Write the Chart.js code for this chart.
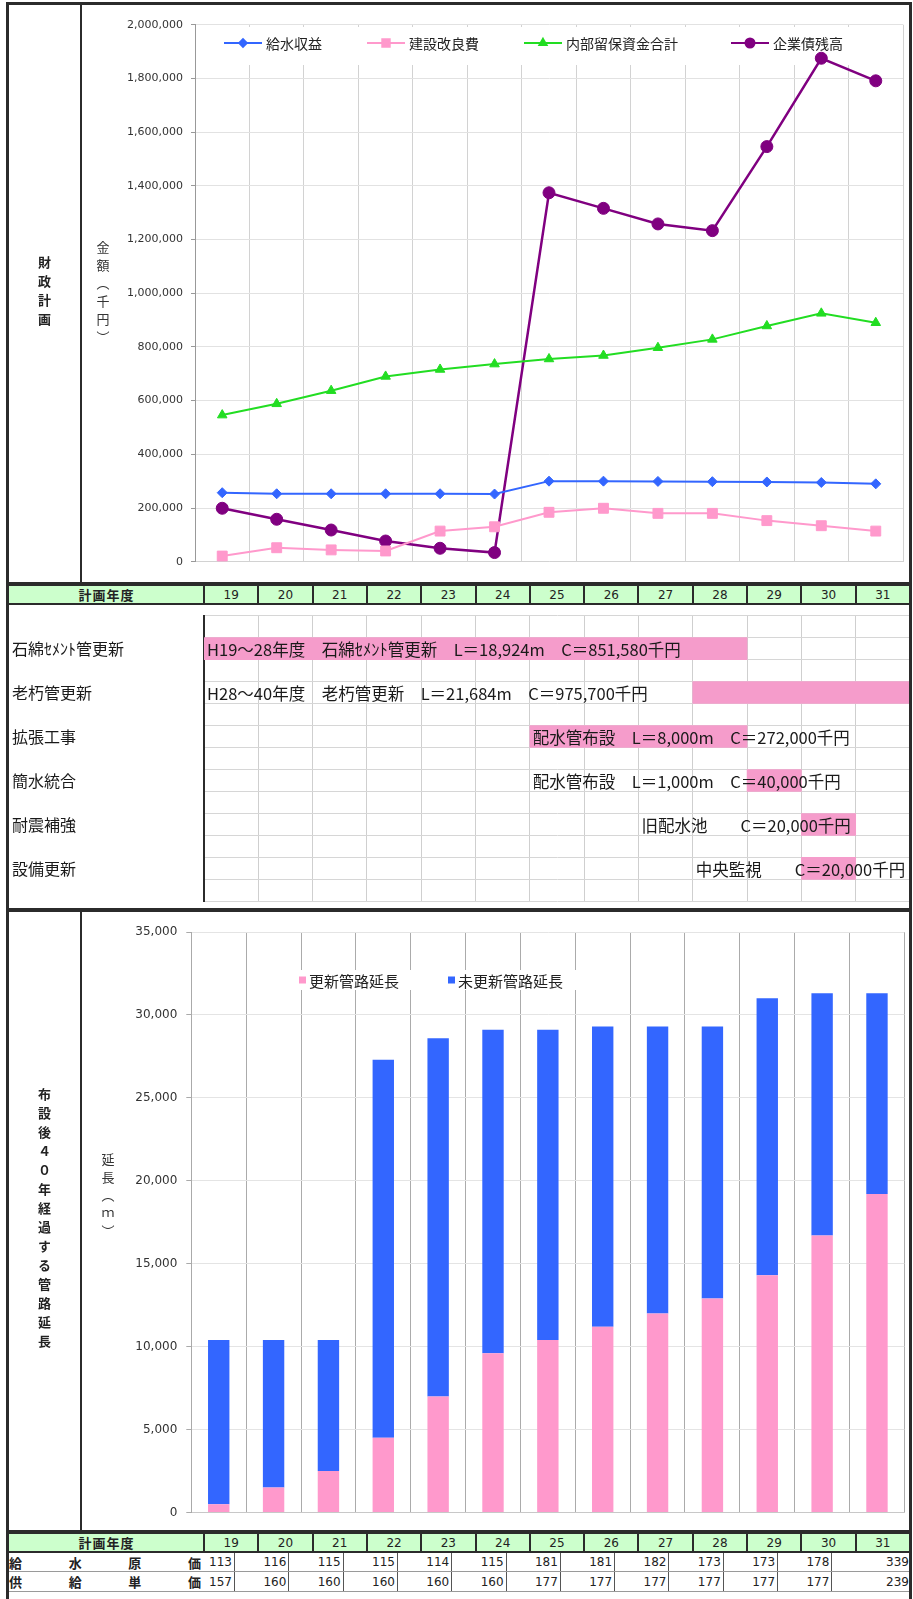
<!DOCTYPE html>
<html lang="ja">
<head>
<meta charset="utf-8">
<title>財政計画・管路延長</title>
<script src="https://cdn.jsdelivr.net/npm/chart.js@4.4.1/dist/chart.umd.min.js"></script>
<style>
  html, body { margin:0; padding:0; background:#fff; }
  #page { position:relative; width:913px; height:1599px; overflow:hidden; background:#fff;
          font-family:"Noto Sans CJK JP","Noto Sans",sans-serif; color:#222; }
  #page canvas { position:absolute; left:0; }
  .rule { position:absolute; background:#2b2b2b; z-index:6; }
  .band { position:absolute; background:#ccffcc; z-index:3; }
  .cell { position:absolute; display:flex; align-items:center; justify-content:center;
          font-size:13px; line-height:1; z-index:4; white-space:nowrap; }
  .num  { position:absolute; font-family:"DejaVu Sans",sans-serif; font-size:12px; line-height:1;
          text-align:right; z-index:4; white-space:nowrap; }
  .vbox { position:absolute; display:flex; align-items:center; justify-content:center; z-index:4; }
  .vbox span { writing-mode:vertical-rl; line-height:1; white-space:nowrap; }
</style>
</head>
<body>
<div id="page">
  <canvas id="finance" width="913" height="583" style="top:0"></canvas>
  <canvas id="schedule" width="913" height="305" style="top:606px"></canvas>
  <canvas id="pipes" width="913" height="618" style="top:912px"></canvas>
</div>
<script>
// ---- 計画年度 ----
const years = ['19','20','21','22','23','24','25','26','27','28','29','30','31'];

// ---- 財政計画（千円） ----
const waterRevenue     = [257000, 253000, 253000, 253000, 253000, 252000, 300000, 300000, 299000, 298000, 297000, 295000, 290000];
const constructionCost = [21000, 52000, 44000, 40000, 114000, 130000, 184000, 199000, 180000, 180000, 153000, 134000, 114000];
const reserveFunds     = [546000, 588000, 637000, 690000, 716000, 736000, 755000, 768000, 797000, 828000, 878000, 925000, 890000];
const bondBalance      = [199000, 158000, 118000, 77000, 50000, 34000, 1374000, 1316000, 1258000, 1233000, 1546000, 1875000, 1791000];

// ---- 事業計画 ----
const taskNames = ['石綿ｾﾒﾝﾄ管更新', '老朽管更新', '拡張工事', '簡水統合', '耐震補強', '設備更新'];
const taskStart = [19, 28, 25, 29, 30, 30];
const taskEnd   = [29, 32, 29, 30, 31, 31];
const taskNotes = [
  'H19～28年度　石綿ｾﾒﾝﾄ管更新　L＝18,924m　C＝851,580千円',
  'H28～40年度　老朽管更新　L＝21,684m　C＝975,700千円',
  '配水管布設　L＝8,000m　C＝272,000千円',
  '配水管布設　L＝1,000m　C＝40,000千円',
  '旧配水池　　C＝20,000千円',
  '中央監視　　C＝20,000千円'
];
const noteStart = [19, 19, 25, 25, 27, 28];

// ---- 布設後40年経過する管路延長（m） ----
const renewedLength   = [500, 1500, 2500, 4500, 7000, 9600, 10400, 11200, 12000, 12900, 14300, 16700, 19200];
const unrenewedLength = [9900, 8900, 7900, 22800, 21600, 19500, 18700, 18100, 17300, 16400, 16700, 14600, 12100];

// ---- 単価表（円） ----
const waterCost   = [113, 116, 115, 115, 114, 115, 181, 181, 182, 173, 173, 178, 339];
const supplyPrice = [157, 160, 160, 160, 160, 160, 177, 177, 177, 177, 177, 177, 239];

const FONT_JP  = '"Noto Sans CJK JP", "Noto Sans", sans-serif';
const FONT_NUM = '"DejaVu Sans", sans-serif';
const page = document.getElementById('page');

function add(cls, css, text) {
  const d = document.createElement('div');
  d.className = cls;
  Object.assign(d.style, css);
  if (text !== undefined) d.innerHTML = text;
  page.appendChild(d);
  return d;
}
function rule(x, y, w, h, color) {
  return add('rule', {left: x + 'px', top: y + 'px', width: w + 'px', height: h + 'px', background: color || '#2b2b2b'});
}
const fmt = v => v.toLocaleString('en-US');

// line + marker legend drawn inside the plot, on a white box
const lineLegend = {
  id: 'lineLegend',
  beforeDatasetsDraw(chart, args, opts) {
    const ctx = chart.ctx;
    ctx.save();
    ctx.fillStyle = '#fff';
    ctx.fillRect(opts.box[0], opts.box[1], opts.box[2], opts.box[3]);
    ctx.font = '14px ' + FONT_JP;
    ctx.textBaseline = 'middle';
    chart.data.datasets.forEach((ds, i) => {
      const x = opts.itemX[i], y = opts.y;
      ctx.strokeStyle = ds.borderColor;
      ctx.lineWidth = 2;
      ctx.beginPath(); ctx.moveTo(x, y); ctx.lineTo(x + 38, y); ctx.stroke();
      ctx.fillStyle = ds.backgroundColor;
      Chart.helpers.drawPoint(ctx, {pointStyle: ds.pointStyle, radius: ds.pointRadius * 0.75, rotation: 0, borderWidth: 1}, x + 19, y);
      ctx.fillStyle = '#222';
      ctx.fillText(ds.label, x + 42, y + 1);
    });
    ctx.restore();
  }
};

// square-swatch legend for the stacked bars
const boxLegend = {
  id: 'boxLegend',
  beforeDatasetsDraw(chart, args, opts) {
    const ctx = chart.ctx;
    ctx.save();
    ctx.fillStyle = '#fff';
    ctx.fillRect(opts.box[0], opts.box[1], opts.box[2], opts.box[3]);
    ctx.font = '15px ' + FONT_JP;
    ctx.textBaseline = 'middle';
    chart.data.datasets.forEach((ds, i) => {
      const x = opts.itemX[i], y = opts.y;
      ctx.fillStyle = ds.backgroundColor;
      ctx.fillRect(x, y - 3.5, 7, 7);
      ctx.fillStyle = '#222';
      ctx.fillText(ds.label, x + 10, y + 1);
    });
    ctx.restore();
  }
};

// ---------- 財政計画 ----------
new Chart(document.getElementById('finance'), {
  type: 'line',
  data: {
    labels: years,
    datasets: [
      {label: '給水収益', data: waterRevenue, borderColor: '#3366ff', backgroundColor: '#3366ff',
       borderWidth: 2, pointStyle: 'rectRot', pointRadius: 5, pointBorderWidth: 1},
      {label: '建設改良費', data: constructionCost, borderColor: '#ff99cc', backgroundColor: '#ff99cc',
       borderWidth: 2, pointStyle: 'rect', pointRadius: 7, pointBorderWidth: 1},
      {label: '内部留保資金合計', data: reserveFunds, borderColor: '#22dd22', backgroundColor: '#22dd22',
       borderWidth: 2, pointStyle: 'triangle', pointRadius: 5.5, pointBorderWidth: 1},
      {label: '企業債残高', data: bondBalance, borderColor: '#800080', backgroundColor: '#800080',
       borderWidth: 2.5, pointStyle: 'circle', pointRadius: 6, pointBorderWidth: 1}
    ]
  },
  options: {
    responsive: false, animation: false, devicePixelRatio: 1,
    layout: {padding: {left: 80, right: 10, top: 24.7, bottom: 21.3}},
    elements: {line: {tension: 0}},
    plugins: {
      legend: {display: false}, tooltip: {enabled: false},
      lineLegend: {box: [206, 27, 672, 38], itemX: [224, 367, 524, 731], y: 43}
    },
    scales: {
      x: {type: 'category', offset: true,
          grid: {offset: true, color: '#d2d2d2', drawTicks: false},
          border: {color: '#d2d2d2'},
          ticks: {display: false},
          afterFit(s) { s.height = 0; }},
      y: {min: 0, max: 2000000,
          ticks: {stepSize: 200000, callback: v => fmt(v), color: '#333', padding: 8,
                  font: {family: FONT_NUM, size: 11}},
          grid: {color: '#e2e2e2', tickLength: 4, tickColor: '#999'},
          border: {color: '#999'},
          afterFit(s) { s.width = 115; }}
    }
  },
  plugins: [lineLegend]
});

// ---------- 事業計画（工程表） ----------
const rowLabels = [''];
const rowSpans = [null];
taskNames.forEach((n, k) => {
  rowLabels.push(n, '');
  rowSpans.push([taskStart[k], taskEnd[k]], null);
});

const notesPlugin = {
  id: 'notes',
  afterDatasetsDraw(chart) {
    const ctx = chart.ctx, xs = chart.scales.x, ys = chart.scales.y;
    ctx.save();
    ctx.font = '16.5px ' + FONT_JP;
    ctx.fillStyle = '#1a1a1a';
    ctx.textBaseline = 'middle';
    taskNotes.forEach((t, k) => {
      ctx.fillText(t, xs.getPixelForValue(noteStart[k]) + 3, ys.getPixelForValue(2 * k + 1) + 1);
    });
    ctx.restore();
  }
};

const schedule = new Chart(document.getElementById('schedule'), {
  type: 'bar',
  data: {labels: rowLabels,
         datasets: [{label: '事業期間', data: rowSpans, backgroundColor: '#f59ccb',
                     barPercentage: 1, categoryPercentage: 1, borderSkipped: false}]},
  options: {
    indexAxis: 'y',
    responsive: false, animation: false, devicePixelRatio: 1,
    layout: {padding: {left: 12, right: 3, top: 3, bottom: 0}},
    plugins: {legend: {display: false}, tooltip: {enabled: false}},
    scales: {
      x: {type: 'linear', min: 19, max: 32,
          ticks: {stepSize: 1, display: false},
          grid: {color: '#cfcfcf', drawTicks: false},
          border: {display: false},
          afterFit(s) { s.height = 0; }},
      y: {type: 'category', offset: true,
          grid: {offset: true, color: '#d6d6d6', drawTicks: false},
          border: {color: '#2b2b2b', width: 2},
          ticks: {crossAlign: 'far', color: '#1a1a1a', font: {family: FONT_JP, size: 16}, padding: 0},
          afterFit(s) { s.width = 192; }}
    }
  },
  plugins: [notesPlugin]
});

// ---------- 管路延長 ----------
new Chart(document.getElementById('pipes'), {
  type: 'bar',
  data: {labels: years,
         datasets: [
           {label: '更新管路延長', data: renewedLength, backgroundColor: '#ff99cc'},
           {label: '未更新管路延長', data: unrenewedLength, backgroundColor: '#3366ff'}
         ]},
  options: {
    responsive: false, animation: false, devicePixelRatio: 1,
    layout: {padding: {left: 80, right: 8.6, top: 20, bottom: 17.5}},
    datasets: {bar: {barPercentage: 0.39, categoryPercentage: 1}},
    plugins: {
      legend: {display: false}, tooltip: {enabled: false},
      boxLegend: {box: [297, 58, 282, 20], itemX: [299, 448], y: 68}
    },
    scales: {
      x: {stacked: true, offset: true,
          grid: {offset: true, color: '#ababab', drawTicks: false},
          border: {color: '#c8c8c8'},
          ticks: {display: false},
          afterFit(s) { s.height = 0; }},
      y: {stacked: true, min: 0, max: 35000,
          ticks: {stepSize: 5000, callback: v => fmt(v), color: '#333', padding: 9,
                  font: {family: FONT_NUM, size: 12}},
          grid: {color: '#e4e4e4', tickLength: 5, tickColor: '#aaa'},
          border: {color: '#aaa'},
          afterFit(s) { s.width = 111.3; }}
    }
  },
  plugins: [boxLegend]
});

// ---------- 表組み（見出し・単価） ----------
const xs = schedule.scales.x;
const colX = [];
for (let i = 0; i <= years.length; i++) colX.push(xs.getPixelForValue(19 + i));

function yearHeader(top) {
  rule(6, top, 906, 4);
  add('band', {left: '9px', top: (top + 4) + 'px', width: '901px', height: '17px'});
  add('cell', {left: '9px', top: (top + 4) + 'px', width: (colX[0] - 9) + 'px', height: '17px',
               fontWeight: 'bold', letterSpacing: '1px'}, '計画年度');
  years.forEach((y, i) => {
    add('cell', {left: colX[i] + 'px', top: (top + 4) + 'px', width: (colX[i + 1] - colX[i]) + 'px',
                 height: '17px', fontFamily: FONT_NUM, fontSize: '12px'}, y);
  });
  for (let i = 0; i < years.length; i++) rule(colX[i] - 1, top + 4, 2, 17);
  rule(6, top + 21, 906, 2);
}
yearHeader(582);
yearHeader(1530);

function valueRow(top, h, label, values) {
  const lab = add('cell', {left: '9px', top: top + 'px', width: (colX[0] - 12) + 'px', height: h + 'px',
                           justifyContent: 'space-between', fontWeight: 'bold'});
  for (const ch of label) { const s = document.createElement('span'); s.textContent = ch; lab.appendChild(s); }
  values.forEach((v, i) => {
    const right = (i < values.length - 1) ? colX[i] + 28 : colX[i + 1] - 1;
    add('num', {left: (right - 40) + 'px', top: (top + (h - 12) / 2) + 'px', width: '40px'}, String(v));
    if (i < values.length - 1) rule(colX[i] + 30, top, 1, h, '#555');
  });
  rule(9, top + h, 901, 1, '#9a9a9a');
}
valueRow(1553, 18, '給水原価', waterCost);
valueRow(1572, 19, '供給単価', supplyPrice);

// ---------- 枠線・縦書き見出し ----------
rule(6, 2, 906, 3);          // top frame
rule(6, 2, 3, 1597);         // left frame
rule(909, 2, 3, 1597);       // right frame
rule(80, 5, 2, 577);         // label column, upper section
rule(80, 912, 2, 618);       // label column, lower section
rule(6, 908, 906, 4);        // section divider

add('vbox', {left: '9px', top: '5px', width: '71px', height: '577px', fontSize: '13px', fontWeight: 'bold'},
    '<span style="letter-spacing:6px">財政計画</span>');
add('vbox', {left: '9px', top: '912px', width: '71px', height: '618px', fontSize: '13px', fontWeight: 'bold'},
    '<span style="letter-spacing:6px">布設後４０年経過する管路延長</span>');
add('vbox', {left: '93px', top: '230px', width: '20px', height: '130px', fontSize: '13px', color: '#333'},
    '<span style="letter-spacing:5px">金額（千円）</span>');
add('vbox', {left: '98px', top: '1140px', width: '20px', height: '115px', fontSize: '13px', color: '#333'},
    '<span style="letter-spacing:5px">延長（ｍ）</span>');
</script>
</body>
</html>
